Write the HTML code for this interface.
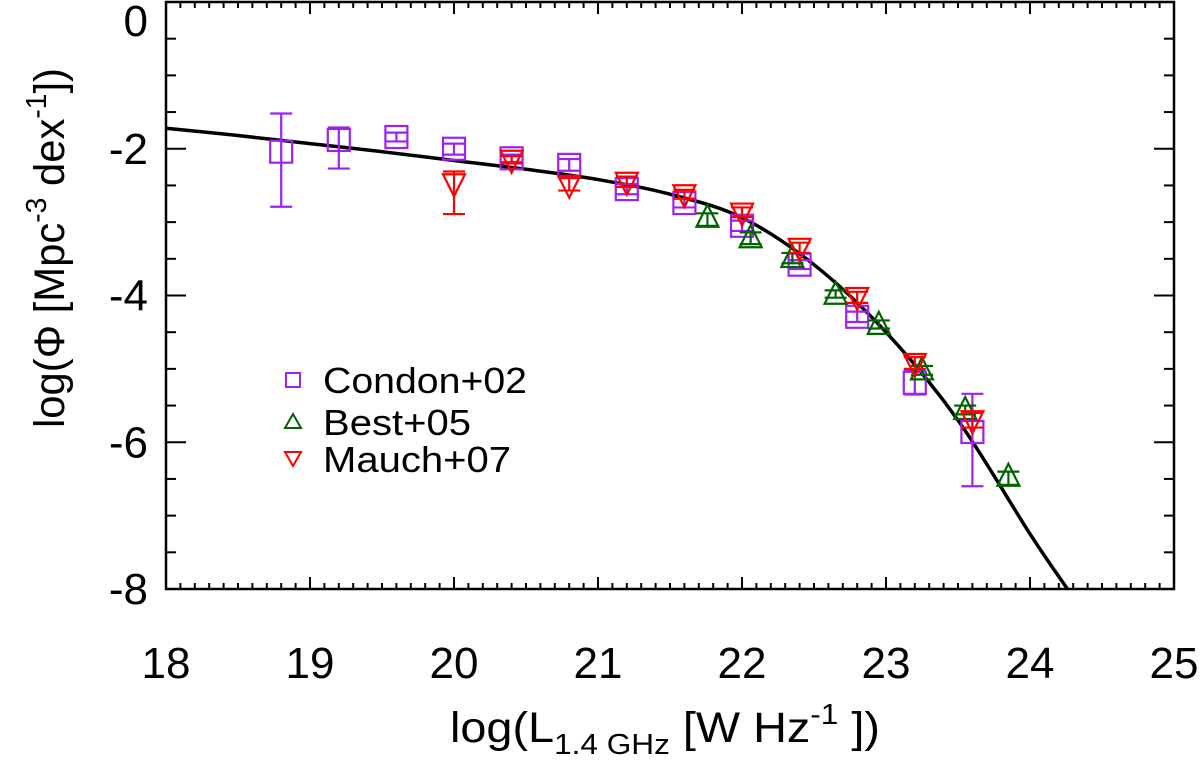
<!DOCTYPE html>
<html><head><meta charset="utf-8"><style>
html,body{margin:0;padding:0;background:#fff;}
svg{display:block;font-family:"Liberation Sans",Arial,sans-serif;}
</style></head><body>
<svg id="chart" width="1200" height="770" viewBox="0 0 1200 770" xmlns="http://www.w3.org/2000/svg">
<g id="axes"></g>
<g id="curve"></g>
<g id="marks"></g>
<g id="legend">
  <rect x="286" y="373" width="14" height="14" fill="none" stroke="#a020f0" stroke-width="2"/>
  <text x="323" y="393" font-size="36" textLength="204" lengthAdjust="spacingAndGlyphs">Condon+02</text>
  <polygon points="293,414 301,428 285,428" fill="none" stroke="#006400" stroke-width="2"/>
  <text x="323" y="435" font-size="36" textLength="148" lengthAdjust="spacingAndGlyphs">Best+05</text>
  <polygon points="285,452 301,452 293,466" fill="none" stroke="#ff0000" stroke-width="2"/>
  <text x="323" y="472" font-size="36" textLength="188" lengthAdjust="spacingAndGlyphs">Mauch+07</text>
</g>
<text x="450" y="742" font-size="43" textLength="430" lengthAdjust="spacingAndGlyphs">log(L<tspan font-size="29" dy="12">1.4 GHz</tspan><tspan dy="-12"> [W Hz</tspan><tspan font-size="29" dy="-18">-1</tspan><tspan dy="18"> ])</tspan></text>
<text transform="translate(64,428) rotate(-90)" x="0" y="0" font-size="43" textLength="360" lengthAdjust="spacingAndGlyphs">log(Φ [Mpc<tspan font-size="29" dy="-18">-3</tspan><tspan dy="18"> dex</tspan><tspan font-size="29" dy="-18">-1</tspan><tspan dy="18">])</tspan></text>
</svg>
<script>
const xTicks = [18,19,20,21,22,23,24,25];
const yTicks = [0,-2,-4,-6,-8];
const condonX = [18.8,19.2,19.6,20.0,20.4,20.8,21.2,21.6,22.0,22.4,22.8,23.2,23.6];
const condonY = [-2.04,-1.88,-1.84,-2.0,-2.13,-2.22,-2.55,-2.74,-3.05,-3.58,-4.29,-5.19,-5.86];
const condonLo = [-2.79,-2.27,-1.90,-2.08,-2.18,-2.30,-2.62,-2.80,-3.12,-3.64,-4.36,-5.35,-6.60];
const condonHi = [-1.52,-1.71,-1.78,-1.93,-2.08,-2.14,-2.48,-2.68,-2.98,-3.52,-4.22,-5.02,-5.34];
const bestX = [21.76,22.06,22.35,22.65,22.95,23.25,23.55,23.85];
const bestY = [-2.94,-3.22,-3.49,-3.99,-4.40,-5.02,-5.56,-6.47];
const bestLo = [-3.05,-3.30,-3.56,-4.03,-4.45,-5.08,-5.62,-6.58];
const bestHi = [-2.88,-3.14,-3.42,-3.93,-4.34,-4.96,-5.50,-6.40];
const mauchX = [20.0,20.4,20.8,21.2,21.6,22.0,22.4,22.8,23.2,23.6];
const mauchY = [-2.47,-2.15,-2.49,-2.45,-2.62,-2.87,-3.35,-4.02,-4.92,-5.70];
const mauchLo = [-2.89,-2.20,-2.57,-2.52,-2.68,-2.93,-3.42,-4.10,-5.00,-5.80];
const mauchHi = [-2.31,-2.10,-2.40,-2.38,-2.56,-2.80,-3.28,-3.95,-4.84,-5.60];
const curveX = [18,18.5,19,19.5,20,20.5,21,21.5,22,22.5,23,23.5,24,24.26];
const curveY = [-1.72,-1.82,-1.93,-2.04,-2.16,-2.28,-2.42,-2.62,-2.94,-3.58,-4.5,-5.7,-7.25,-8.0];

const NS="http://www.w3.org/2000/svg";
const L=166,R=1174,T=2,B=589;
const sx=v=>L+(v-18)/7*(R-L);
const sy=v=>T+(0-v)/8*(B-T);
function mk(tag,attrs,parent){const e=document.createElementNS(NS,tag);for(const k in attrs)e.setAttribute(k,attrs[k]);parent.appendChild(e);return e;}
const axes=document.getElementById('axes');
const frame=mk('rect',{x:L,y:T,width:R-L,height:B-T,fill:'none',stroke:'#000','stroke-width':2.5},axes);


for(let i=0;i<=70;i++){
  const v=18+i/10, x=sx(v), major=i%10===0, len=major?12:6;
  if(i===0||i===70)continue;
  const t1=mk('line',{x1:x,x2:x,y1:B,y2:B-len,stroke:'#000','stroke-width':2},axes);
  
  
  const t2=mk('line',{x1:x,x2:x,y1:T,y2:T+len,stroke:'#000','stroke-width':2},axes);
  
  
}
for(let i=1;i<16;i++){
  const v=-i/2, y=sy(v), major=i%4===0, len=major?20:10;
  const t1=mk('line',{x1:L,x2:L+len,y1:y,y2:y,stroke:'#000','stroke-width':2},axes);
  
  
  const t2=mk('line',{x1:R,x2:R-len,y1:y,y2:y,stroke:'#000','stroke-width':2},axes);
  
  
}
xTicks.forEach(v=>{
  const t=mk('text',{x:sx(v),y:678,'font-size':44,'text-anchor':'middle'},axes);t.textContent=v;
  
  
});
yTicks.forEach(v=>{
  const y=Math.max(sy(v)+15,36);
  const t=mk('text',{x:148,y:y,'font-size':44,'text-anchor':'end'},axes);t.textContent=v;
  
  
});
const pts=curveX.map((x,i)=>[sx(x),sy(curveY[i])]);
let d='M'+pts[0][0]+','+pts[0][1];
for(let i=0;i<pts.length-1;i++){
  const p0=pts[Math.max(0,i-1)],p1=pts[i],p2=pts[i+1],p3=pts[Math.min(pts.length-1,i+2)];
  d+=` C${p1[0]+(p2[0]-p0[0])/6},${p1[1]+(p2[1]-p0[1])/6} ${p2[0]-(p3[0]-p1[0])/6},${p2[1]-(p3[1]-p1[1])/6} ${p2[0]},${p2[1]}`;
}
const cp=mk('path',{d:d,fill:'none',stroke:'#000','stroke-width':3.5},document.getElementById('curve'));


const marks=document.getElementById('marks');
function errbar(x,lo,hi,col,name){
  const g=mk('g',{stroke:col,'stroke-width':2.2,fill:'none'},marks);
  
  
  const X=sx(x),y1=sy(lo),y2=sy(hi);
  mk('line',{x1:X,x2:X,y1:y1,y2:y2},g);
  mk('line',{x1:X-11,x2:X+11,y1:y1,y2:y1},g);
  mk('line',{x1:X-11,x2:X+11,y1:y2,y2:y2},g);
}
condonX.forEach((x,i)=>{
  errbar(x,condonLo[i],condonHi[i],'#a020f0','condon');
  const r=mk('rect',{x:sx(x)-11,y:sy(condonY[i])-11,width:22,height:22,fill:'none',stroke:'#a020f0','stroke-width':2.2},marks);
  
  
});
bestX.forEach((x,i)=>{
  errbar(x,bestLo[i],bestHi[i],'#006400','best');
  const X=sx(x),Y=sy(bestY[i]);
  const p=mk('polygon',{points:`${X},${Y-13} ${X+11},${Y+9} ${X-11},${Y+9}`,fill:'none',stroke:'#006400','stroke-width':2.2},marks);
  
  
});
mauchX.forEach((x,i)=>{
  errbar(x,mauchLo[i],mauchHi[i],'#ff0000','mauch');
  const X=sx(x),Y=sy(mauchY[i]);
  const p=mk('polygon',{points:`${X-11},${Y-9} ${X+11},${Y-9} ${X},${Y+13}`,fill:'none',stroke:'#ff0000','stroke-width':2.2},marks);
  
  
});
</script>
</body></html>
